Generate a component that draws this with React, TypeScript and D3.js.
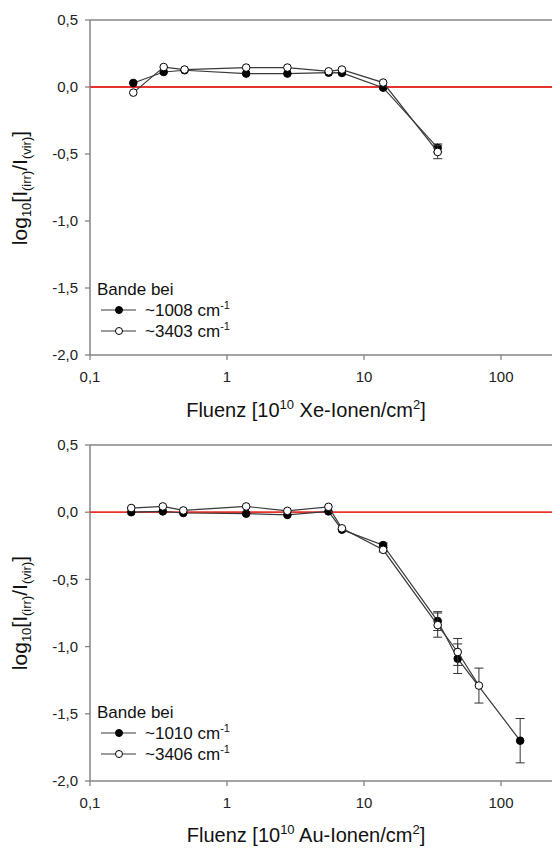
import React from "react";
import * as d3 from "d3";

// ---- data ----
const xeFluence = [0.207, 0.345, 0.49, 1.38, 2.76, 5.52, 6.9, 13.8, 34.5];
const xe1008 = [0.03, 0.112, 0.125, 0.1, 0.1, 0.107, 0.105, -0.005, -0.455];
const xe1008Err = [0, 0, 0, 0, 0, 0, 0, 0, 0.03];
const xe3403 = [-0.042, 0.149, 0.13, 0.145, 0.145, 0.117, 0.13, 0.033, -0.485];
const xe3403Err = [0, 0, 0, 0, 0, 0, 0, 0, 0.05];

const au1010Fluence = [0.2, 0.34, 0.48, 1.38, 2.76, 5.5, 6.9, 13.8, 34.5, 48.3, 138];
const au1010 = [0.0, 0.006, -0.006, -0.011, -0.02, 0.006, -0.13, -0.245, -0.81, -1.09, -1.7];
const au1010Err = [0, 0, 0, 0, 0, 0, 0, 0.015, 0.07, 0.11, 0.165];
const au3406Fluence = [0.2, 0.34, 0.48, 1.38, 2.76, 5.5, 6.9, 13.8, 34.5, 48.3, 69];
const au3406 = [0.031, 0.043, 0.013, 0.043, 0.01, 0.04, -0.12, -0.28, -0.84, -1.04, -1.29];
const au3406Err = [0, 0, 0, 0, 0, 0, 0, 0.015, 0.09, 0.1, 0.13];

const xTicks = [0.1, 1, 10, 100];
const xTickLabels = ["0,1", "1", "10", "100"];
const yTicks = [0.5, 0, -0.5, -1, -1.5, -2];
const yTickLabels = ["0,5", "0,0", "-0,5", "-1,0", "-1,5", "-2,0"];

const W = 552;
const H = 848;
const FONT = "'Liberation Sans', Arial, sans-serif";
const AXIS = "#858585";

type Series = { x: number[]; y: number[]; err: number[]; filled: boolean; label: string };

function Panel({ top, bottom, series, ion, legendY, xLabelY, yLabelY }: { top: number; bottom: number; series: Series[]; ion: string; legendY: number; xLabelY: number; yLabelY: number }) {
  const x = d3.scaleLog().domain([0.1, 100]).range([90, 501]);
  const y = d3.scaleLinear().domain([-2, 0.5]).range([bottom, top]);
  const left = x(0.1);
  const line = d3.line<[number, number]>().x((d) => x(d[0])).y((d) => y(d[1]));
  return (
    <g>
      {/* frame */}
      <line x1={left} x2={W} y1={top} y2={top} stroke={AXIS} strokeWidth={1.5} />
      <line x1={left} x2={left} y1={top} y2={bottom} stroke={AXIS} strokeWidth={1.5} />
      <line x1={left} x2={W} y1={bottom} y2={bottom} stroke={AXIS} strokeWidth={1.5} />
      {/* y ticks */}
      {yTicks.map((t, i) => (
        <g key={"y" + i}>
          <line x1={left - 5} x2={left} y1={y(t)} y2={y(t)} stroke={AXIS} strokeWidth={1.3} />
          <text x={left - 12} y={y(t)} dy="0.35em" textAnchor="end" fontSize={15} fontFamily={FONT} fill="#222">
            {yTickLabels[i]}
          </text>
        </g>
      ))}
      {/* x ticks */}
      {xTicks.map((t, i) => (
        <g key={"x" + i}>
          <line x1={x(t)} x2={x(t)} y1={bottom} y2={bottom + 5} stroke={AXIS} strokeWidth={1.3} />
          <text x={x(t)} y={bottom + 22} dy="0.35em" textAnchor="middle" fontSize={15} fontFamily={FONT} fill="#222">
            {xTickLabels[i]}
          </text>
        </g>
      ))}
      {/* zero line */}
      <line x1={left} x2={W} y1={y(0)} y2={y(0)} stroke="#e8322b" strokeWidth={1.8} />
      {/* series */}
      {series.map((s, si) => {
        const pts = s.x.map((v, i) => [v, s.y[i]] as [number, number]);
        return (
          <g key={"s" + si}>
            <path d={line(pts) || ""} fill="none" stroke="#3a3a3a" strokeWidth={1.2} />
            {pts.map((p, i) =>
              s.err[i] > 0 ? (
                <g key={"e" + i} stroke="#333" strokeWidth={1}>
                  <line x1={x(p[0])} x2={x(p[0])} y1={y(p[1] + s.err[i])} y2={y(p[1] - s.err[i])} />
                  <line x1={x(p[0]) - 4.5} x2={x(p[0]) + 4.5} y1={y(p[1] + s.err[i])} y2={y(p[1] + s.err[i])} />
                  <line x1={x(p[0]) - 4.5} x2={x(p[0]) + 4.5} y1={y(p[1] - s.err[i])} y2={y(p[1] - s.err[i])} />
                </g>
              ) : null
            )}
            {pts.map((p, i) => (
              <circle key={"c" + i} cx={x(p[0])} cy={y(p[1])} r={3.8} fill={s.filled ? "#000" : "#fff"} stroke="#000" strokeWidth={1} />
            ))}
          </g>
        );
      })}
      {/* legend */}
      <text x={97} y={legendY} dy="0.35em" fontSize={17} fontFamily={FONT} fill="#111">
        Bande bei
      </text>
      {series.map((s, i) => {
        const ly = legendY + 21 + i * 21;
        return (
          <g key={"l" + i}>
            <line x1={101} x2={136} y1={ly} y2={ly} stroke="#3a3a3a" strokeWidth={1.2} />
            <circle cx={119} cy={ly} r={3.5} fill={s.filled ? "#000" : "#fff"} stroke="#000" strokeWidth={1} />
            <text x={145} y={ly + 6} fontSize={17} fontFamily={FONT} fill="#111">
              {s.label} cm<tspan fontSize={11} dy={-7}>-1</tspan>
            </text>
          </g>
        );
      })}
      {/* axis labels */}
      <text x={306} y={xLabelY + 7} textAnchor="middle" fontSize={20} fontFamily={FONT} fill="#111">
        Fluenz [10<tspan fontSize={13} dy={-8}>10</tspan>
        <tspan dy={8}> {ion}-Ionen/cm</tspan>
        <tspan fontSize={13} dy={-8}>2</tspan>
        <tspan dy={8}>]</tspan>
      </text>
      <text transform={`translate(27,${yLabelY}) rotate(-90)`} textAnchor="middle" fontSize={21} fontFamily={FONT} fill="#111">
        log<tspan fontSize={13} dy={4}>10</tspan>
        <tspan dy={-4}>[I</tspan>
        <tspan fontSize={13} dy={4}>(irr)</tspan>
        <tspan dy={-4}>/I</tspan>
        <tspan fontSize={13} dy={4}>(vir)</tspan>
        <tspan dy={-4}>]</tspan>
      </text>
    </g>
  );
}

export default function App() {
  const xeSeries: Series[] = [
    { x: xeFluence, y: xe1008, err: xe1008Err, filled: true, label: "~1008" },
    { x: xeFluence, y: xe3403, err: xe3403Err, filled: false, label: "~3403" },
  ];
  const auSeries: Series[] = [
    { x: au1010Fluence, y: au1010, err: au1010Err, filled: true, label: "~1010" },
    { x: au3406Fluence, y: au3406, err: au3406Err, filled: false, label: "~3406" },
  ];
  return (
    <svg width={W} height={H} style={{ position: "absolute", left: 0, top: 0, background: "#fff" }}>
      <rect width={W} height={H} fill="#fff" />
      <Panel top={20} bottom={355} series={xeSeries} ion="Xe" legendY={289} xLabelY={410} yLabelY={188} />
      <Panel top={445} bottom={781} series={auSeries} ion="Au" legendY={712} xLabelY={835} yLabelY={613} />
    </svg>
  );
}
